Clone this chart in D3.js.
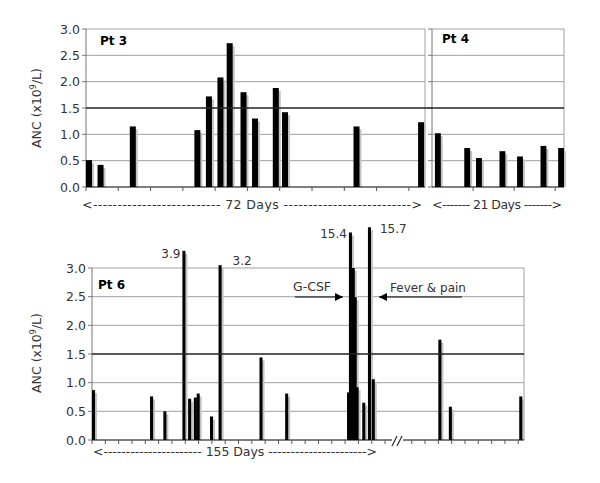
<!DOCTYPE html>
<html>
<head>
<meta charset="utf-8">
<script src="https://cdn.jsdelivr.net/npm/d3@7"></script>
<style>
  body { margin: 0; background: #fff; }
  text { font-family: "DejaVu Sans", Verdana, sans-serif; }
</style>
</head>
<body>
<svg id="chart" width="600" height="483"></svg>
<script>
// Pt 3 (72 days)
const pt3Days = [0, 2.5, 9.5, 23.5, 26, 28.5, 30.5, 33.5, 36, 40.5, 42.5, 58, 72];
const pt3Anc = [0.51, 0.42, 1.15, 1.08, 1.72, 2.08, 2.73, 1.80, 1.30, 1.88, 1.42, 1.15, 1.23];

// Pt 4 (21 days)
const pt4Days = [0, 5, 7, 11, 14, 18, 21];
const pt4Anc = [1.02, 0.74, 0.55, 0.68, 0.58, 0.78, 0.74];

// Pt 6 (155 days, then axis break)
const pt6Days = [0, 30.5, 37.5, 47.5, 50.5, 53.5, 55, 62, 66.5, 88, 101.5,
                 134, 135, 136.5, 137.5, 138.5, 142, 145, 147, 182, 187.5, 224.5];
const pt6Anc = [0.87, 0.76, 0.50, 3.9, 0.72, 0.74, 0.81, 0.41, 3.17, 1.44, 0.81,
                0.83, 15.4, 3.0, 2.49, 0.92, 0.65, 15.7, 1.06, 1.75, 0.58, 0.76];
// off-scale bars are cut at these heights, with their value written next to them
const pt6Cut = { 3.9: 3.3, 15.4: 3.62, 15.7: 3.71 };
const pt6Labels = [
    { value: 3.9, text: "3.9", side: "left" },
    { value: 3.17, text: "3.2", side: "right" },
    { value: 15.4, text: "15.4", side: "left" },
    { value: 15.7, text: "15.7", side: "right" }
];

const yTicks = [0, 0.5, 1, 1.5, 2, 2.5, 3];

const svg = d3.select("#chart");

function gridAndAxis(g, x, y, x0, x1, showLabels) {
    yTicks.forEach(t => {
        if (t === 0 || t === 1.5) return;
        g.append("line")
            .attr("x1", x0).attr("x2", x1)
            .attr("y1", y(t)).attr("y2", y(t))
            .attr("stroke", "#a0a0a0").attr("stroke-width", 1);
    });
    // right border
    g.append("line")
        .attr("x1", x1).attr("x2", x1)
        .attr("y1", y(3)).attr("y2", y(0))
        .attr("stroke", "#a0a0a0");
    // left axis
    g.append("line")
        .attr("x1", x0).attr("x2", x0)
        .attr("y1", y(3)).attr("y2", y(0))
        .attr("stroke", "#777");
    yTicks.forEach(t => {
        g.append("line")
            .attr("x1", x0 - 4).attr("x2", x0)
            .attr("y1", y(t)).attr("y2", y(t))
            .attr("stroke", "#777");
        if (showLabels) {
            g.append("text")
                .attr("x", x0 - 6).attr("y", y(t) + 4.5)
                .attr("text-anchor", "end")
                .attr("font-size", 12.5)
                .attr("fill", "#333")
                .text(t.toFixed(1));
        }
    });
}

function drawBars(g, x, y, days, values, widthDays, cut) {
    const shown = values.map(v => (cut && cut[v]) ? cut[v] : Math.min(v, 3.05));
    const w = d => x(d + widthDays) - x(d);
    g.selectAll(null).data(days).enter().append("rect")
        .attr("x", d => x(d) + 2)
        .attr("y", (d, i) => y(shown[i]) + 3)
        .attr("width", w)
        .attr("height", (d, i) => y(0) - y(shown[i]) - 3)
        .attr("fill", "#c4c4c4");
    g.selectAll(null).data(days).enter().append("rect")
        .attr("x", d => x(d))
        .attr("y", (d, i) => y(shown[i]))
        .attr("width", w)
        .attr("height", (d, i) => y(0) - y(shown[i]))
        .attr("fill", "#000");
}

function xTicks(g, x, ticks, y0) {
    ticks.forEach(t => {
        g.append("line")
            .attr("x1", x(t)).attr("x2", x(t))
            .attr("y1", y0).attr("y2", y0 + 4)
            .attr("stroke", "#555");
    });
}

function spanLabel(x0, x1, yPos, label, dashes) {
    const s = "<" + "-".repeat(dashes) + " " + label + " " + "-".repeat(dashes) + ">";
    svg.append("text")
        .attr("x", x0).attr("y", yPos)
        .attr("font-size", 12.5)
        .attr("fill", "#333")
        .attr("textLength", x1 - x0)
        .attr("lengthAdjust", "spacing")
        .text(s);
}

function yTitle(cx, cy) {
    const t = svg.append("text")
        .attr("transform", `translate(${cx},${cy}) rotate(-90)`)
        .attr("text-anchor", "middle")
        .attr("font-size", 12.5)
        .attr("fill", "#333");
    t.append("tspan").text("ANC (x10");
    t.append("tspan").attr("font-size", 8).attr("dy", -5).text("9");
    t.append("tspan").attr("dy", 5).text("/L)");
}

// ---------- top: Pt 3 and Pt 4 ----------
const yTop = d3.scaleLinear().domain([0, 3]).range([187, 29]);
const x3 = d3.scaleLinear().domain([0, 73.5]).range([86, 425]);
const x4 = d3.scaleLinear().domain([-0.5, 22]).range([432, 564]);

const topG = svg.append("g");
gridAndAxis(topG, x3, yTop, 86, 425, true);
gridAndAxis(topG, x4, yTop, 432, 564, false);
drawBars(topG, x3, yTop, pt3Days, pt3Anc, 1.3);
drawBars(topG, x4, yTop, pt4Days, pt4Anc, 1.0);

topG.append("line")
    .attr("x1", 86).attr("x2", 564)
    .attr("y1", yTop(1.5)).attr("y2", yTop(1.5))
    .attr("stroke", "#222").attr("stroke-width", 1.3);
[[86, 425], [432, 564]].forEach(([a, b]) => {
    topG.append("line")
        .attr("x1", a).attr("x2", b)
        .attr("y1", yTop(0)).attr("y2", yTop(0))
        .attr("stroke", "#000");
});
xTicks(topG, x3, d3.range(0, 71, 7), yTop(0));
xTicks(topG, x4, [6.5, 13.5, 20.5], yTop(0));

topG.append("text").attr("x", 100).attr("y", 45)
    .attr("font-size", 12).attr("font-weight", "bold").text("Pt 3");
topG.append("text").attr("x", 442).attr("y", 43)
    .attr("font-size", 12).attr("font-weight", "bold").text("Pt 4");

yTitle(41, 108);
spanLabel(82, 422, 209, "72 Days", 26);
spanLabel(432, 562, 209, "21 Days", 7);

// ---------- bottom: Pt 6 ----------
const yBot = d3.scaleLinear().domain([0, 3]).range([440, 268]);
const x6 = d3.scaleLinear().domain([0, 227]).range([92, 524]);

const botG = svg.append("g");
gridAndAxis(botG, x6, yBot, 92, 524, true);
drawBars(botG, x6, yBot, pt6Days, pt6Anc, 1.6, pt6Cut);

botG.append("line")
    .attr("x1", 92).attr("x2", 524)
    .attr("y1", yBot(1.5)).attr("y2", yBot(1.5))
    .attr("stroke", "#222").attr("stroke-width", 1.3);
botG.append("line")
    .attr("x1", 92).attr("x2", 524)
    .attr("y1", yBot(0)).attr("y2", yBot(0))
    .attr("stroke", "#000");
xTicks(botG, x6, d3.range(0, 225, 7), yBot(0));

// axis break
botG.append("rect").attr("x", 392).attr("y", 436).attr("width", 11).attr("height", 10).attr("fill", "#fff");
[392, 397].forEach(bx => {
    botG.append("line")
        .attr("x1", bx).attr("y1", 446).attr("x2", bx + 5).attr("y2", 436)
        .attr("stroke", "#333").attr("stroke-width", 1.2);
});

// values of off-scale bars
pt6Labels.forEach(l => {
    const i = pt6Anc.indexOf(l.value);
    const d = pt6Days[i];
    const h = pt6Cut[l.value] || l.value;
    const big = l.value > 10;
    botG.append("text")
        .attr("x", l.side === "left" ? x6(d) - 2 : x6(d + 1.6) + (big ? 9 : 11))
        .attr("y", yBot(h) + (big ? 6 : 7))
        .attr("text-anchor", l.side === "left" ? "end" : "start")
        .attr("font-size", 12)
        .attr("fill", "#333")
        .text(l.text);
});

botG.append("text").attr("x", 98).attr("y", 289)
    .attr("font-size", 12).attr("font-weight", "bold").text("Pt 6");

// annotations
const defs = svg.append("defs");
defs.append("marker")
    .attr("id", "head").attr("viewBox", "0 0 10 10")
    .attr("refX", 10).attr("refY", 5)
    .attr("markerWidth", 8).attr("markerHeight", 8)
    .attr("markerUnits", "userSpaceOnUse")
    .attr("orient", "auto")
    .append("path").attr("d", "M0,0L10,5L0,10Z").attr("fill", "#000");

botG.append("text").attr("x", 293).attr("y", 291)
    .attr("font-size", 12.5).attr("fill", "#333").text("G-CSF");
botG.append("line")
    .attr("x1", 295).attr("x2", 343).attr("y1", 297).attr("y2", 297)
    .attr("stroke", "#000").attr("marker-end", "url(#head)");

botG.append("text").attr("x", 390).attr("y", 292)
    .attr("font-size", 12).attr("fill", "#333").text("Fever & pain");
botG.append("line")
    .attr("x1", 462).attr("x2", 379).attr("y1", 297).attr("y2", 297)
    .attr("stroke", "#000").attr("marker-end", "url(#head)");

yTitle(41, 353);
spanLabel(93, 377, 456, "155 Days", 22);
</script>
</body>
</html>
